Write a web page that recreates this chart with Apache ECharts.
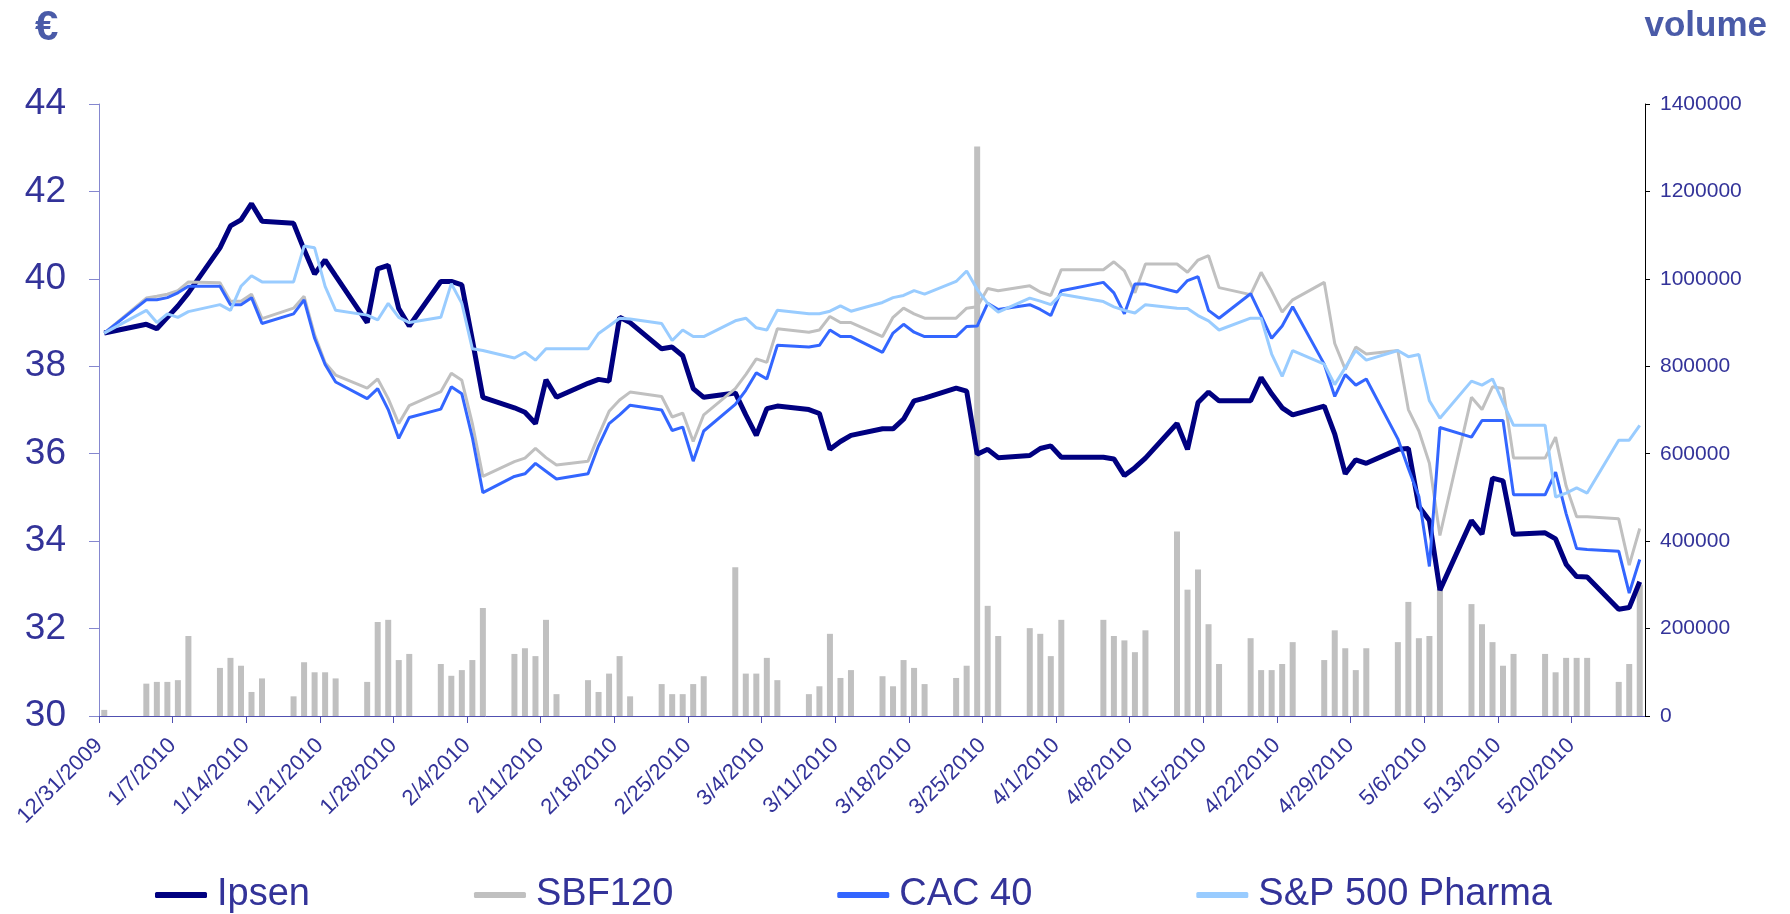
<!DOCTYPE html>
<html>
<head>
<meta charset="utf-8">
<script src="https://cdn.jsdelivr.net/npm/echarts@6/dist/echarts.min.js"></script>
<style>
  html, body { margin: 0; padding: 0; background: #fff; }
  #chart { width: 1790px; height: 914px; }
</style>
</head>
<body>
<div id="chart"></div>
<script>
// trading days shown on the chart (one week per row)
const tradingDays = [
  '12/31/2009',
  '1/4/2010', '1/5/2010', '1/6/2010', '1/7/2010', '1/8/2010',
  '1/11/2010', '1/12/2010', '1/13/2010', '1/14/2010', '1/15/2010',
  '1/18/2010', '1/19/2010', '1/20/2010', '1/21/2010', '1/22/2010',
  '1/25/2010', '1/26/2010', '1/27/2010', '1/28/2010', '1/29/2010',
  '2/1/2010', '2/2/2010', '2/3/2010', '2/4/2010', '2/5/2010',
  '2/8/2010', '2/9/2010', '2/10/2010', '2/11/2010', '2/12/2010',
  '2/15/2010', '2/16/2010', '2/17/2010', '2/18/2010', '2/19/2010',
  '2/22/2010', '2/23/2010', '2/24/2010', '2/25/2010', '2/26/2010',
  '3/1/2010', '3/2/2010', '3/3/2010', '3/4/2010', '3/5/2010',
  '3/8/2010', '3/9/2010', '3/10/2010', '3/11/2010', '3/12/2010',
  '3/15/2010', '3/16/2010', '3/17/2010', '3/18/2010', '3/19/2010',
  '3/22/2010', '3/23/2010', '3/24/2010', '3/25/2010', '3/26/2010',
  '3/29/2010', '3/30/2010', '3/31/2010', '4/1/2010',
  '4/5/2010', '4/6/2010', '4/7/2010', '4/8/2010', '4/9/2010',
  '4/12/2010', '4/13/2010', '4/14/2010', '4/15/2010', '4/16/2010',
  '4/19/2010', '4/20/2010', '4/21/2010', '4/22/2010', '4/23/2010',
  '4/26/2010', '4/27/2010', '4/28/2010', '4/29/2010', '4/30/2010',
  '5/3/2010', '5/4/2010', '5/5/2010', '5/6/2010', '5/7/2010',
  '5/10/2010', '5/11/2010', '5/12/2010', '5/13/2010', '5/14/2010',
  '5/17/2010', '5/18/2010', '5/19/2010', '5/20/2010', '5/21/2010',
  '5/24/2010', '5/25/2010', '5/26/2010'
];

const ipsen = [
  38.76,
  38.96, 38.86, 39.12, 39.38, 39.68,
  40.71, 41.21, 41.35, 41.72, 41.32,
  41.27, 40.67, 40.11, 40.43, 40.07,
  39.00, 40.23, 40.31, 39.32, 38.92,
  39.94, 39.94, 39.86, 38.60, 37.29,
  37.05, 36.95, 36.69, 37.69, 37.29,
  37.61, 37.70, 37.66, 39.12, 39.00,
  38.40, 38.44, 38.24, 37.49, 37.29,
  37.39, 36.89, 36.42, 37.03, 37.09,
  37.01, 36.92, 36.10, 36.28, 36.42,
  36.57, 36.57, 36.79, 37.21, 37.27,
  37.50, 37.43, 35.99, 36.10, 35.91,
  35.96, 36.12, 36.18, 35.92,
  35.92, 35.88, 35.50, 35.68, 35.90,
  36.69, 36.10, 37.17, 37.41, 37.21,
  37.21, 37.74, 37.37, 37.05, 36.89,
  37.09, 36.45, 35.54, 35.86, 35.78,
  36.10, 36.12, 34.79, 34.47, 32.88,
  34.47, 34.16, 35.44, 35.38, 34.16,
  34.19, 34.05, 33.47, 33.19, 33.18,
  32.44, 32.48, 33.07
];

const sbf120 = [
  38.76,
  39.56, 39.60, 39.65, 39.73, 39.93,
  39.91, 39.49, 39.49, 39.65, 39.09,
  39.33, 39.60, 38.72, 38.08, 37.80,
  37.50, 37.71, 37.26, 36.69, 37.10,
  37.42, 37.84, 37.68, 36.69, 35.48,
  35.82, 35.90, 36.12, 35.91, 35.74,
  35.83, 36.42, 36.97, 37.23, 37.41,
  37.31, 36.84, 36.93, 36.28, 36.89,
  37.49, 37.81, 38.17, 38.09, 38.86,
  38.78, 38.83, 39.14, 39.00, 39.00,
  38.68, 39.12, 39.33, 39.20, 39.10,
  39.10, 39.33, 39.36, 39.78, 39.73,
  39.84, 39.70, 39.62, 40.21,
  40.21, 40.39, 40.18, 39.68, 40.34,
  40.34, 40.15, 40.43, 40.53, 39.80,
  39.64, 40.15, 39.72, 39.24, 39.52,
  39.92, 38.52, 37.93, 38.44, 38.28,
  38.36, 37.01, 36.52, 35.78, 34.13,
  37.29, 37.01, 37.53, 37.49, 35.90,
  35.90, 36.38, 35.26, 34.56, 34.56,
  34.51, 33.45, 34.29
];

const cac40 = [
  38.76,
  39.52, 39.52, 39.57, 39.68, 39.83,
  39.83, 39.41, 39.41, 39.57, 38.98,
  39.20, 39.52, 38.64, 38.04, 37.64,
  37.26, 37.49, 37.01, 36.35, 36.83,
  37.02, 37.53, 37.37, 36.37, 35.11,
  35.48, 35.54, 35.78, 35.60, 35.42,
  35.54, 36.18, 36.69, 36.89, 37.11,
  37.00, 36.53, 36.61, 35.83, 36.52,
  37.13, 37.45, 37.85, 37.71, 38.48,
  38.44, 38.48, 38.83, 38.68, 38.68,
  38.32, 38.76, 38.96, 38.78, 38.68,
  38.68, 38.91, 38.92, 39.44, 39.30,
  39.41, 39.30, 39.16, 39.73,
  39.92, 39.68, 39.20, 39.88, 39.88,
  39.70, 39.96, 40.05, 39.28, 39.10,
  39.66, 39.16, 38.64, 38.92, 39.36,
  38.05, 37.31, 37.81, 37.57, 37.71,
  36.34, 35.66, 35.02, 33.42, 36.60,
  36.38, 36.76, 36.76, 36.76, 35.06,
  35.06, 35.58, 34.63, 33.83, 33.81,
  33.77, 32.81, 33.58
];

const spPharma = [
  38.76,
  39.28, 39.00, 39.20, 39.12, 39.25,
  39.41, 39.28, 39.83, 40.07, 39.93,
  39.93, 40.75, 40.71, 39.83, 39.28,
  39.17, 39.06, 39.44, 39.12, 39.00,
  39.12, 39.89, 39.44, 38.40, 38.36,
  38.19, 38.32, 38.14, 38.40, 38.40,
  38.40, 38.75, 38.92, 39.10, 39.08,
  38.98, 38.59, 38.83, 38.68, 38.68,
  39.04, 39.10, 38.88, 38.83, 39.28,
  39.20, 39.20, 39.26, 39.38, 39.26,
  39.46, 39.57, 39.62, 39.73, 39.65,
  39.94, 40.18, 39.76, 39.44, 39.24,
  39.56, 39.49, 39.41, 39.65,
  39.48, 39.36, 39.28, 39.22, 39.41,
  39.33, 39.32, 39.16, 39.04, 38.83,
  39.10, 39.10, 38.28, 37.77, 38.36,
  38.05, 37.58, 37.97, 38.36, 38.14,
  38.36, 38.22, 38.27, 37.21, 36.81,
  37.66, 37.57, 37.71, 37.17, 36.65,
  36.65, 35.01, 35.10, 35.22, 35.10,
  36.31, 36.31, 36.65
];

const volume = [
  14000,
  74000, 78000, 78000, 82000, 183000,
  110000, 133000, 115000, 55000, 86000,
  45000, 123000, 100000, 100000, 86000,
  78000, 215000, 220000, 128000, 142000,
  119000, 92000, 105000, 128000, 247000,
  142000, 155000, 137000, 220000, 50000,
  82000, 55000, 97000, 137000, 45000,
  73000, 50000, 50000, 73000, 91000,
  340000, 97000, 97000, 133000, 82000,
  50000, 68000, 188000, 87000, 105000,
  91000, 68000, 128000, 110000, 73000,
  87000, 115000, 1303000, 252000, 183000,
  201000, 188000, 137000, 220000,
  220000, 183000, 173000, 146000, 196000,
  422000, 289000, 335000, 210000, 119000,
  178000, 105000, 105000, 119000, 169000,
  128000, 196000, 155000, 105000, 155000,
  169000, 261000, 178000, 183000, 290000,
  256000, 210000, 169000, 115000, 142000,
  142000, 100000, 133000, 133000, 133000,
  78000, 119000, 300000
];

// weekly tick labels (every 7 calendar days from 12/31/2009)
const tickLabels = [
  '12/31/2009', '1/7/2010', '1/14/2010', '1/21/2010', '1/28/2010', '2/4/2010',
  '2/11/2010', '2/18/2010', '2/25/2010', '3/4/2010', '3/11/2010', '3/18/2010',
  '3/25/2010', '4/1/2010', '4/8/2010', '4/15/2010', '4/22/2010', '4/29/2010',
  '5/6/2010', '5/13/2010', '5/20/2010'
];

const FONT = 'Liberation Sans, Arial, sans-serif';
const LABEL = '#333399';

// calendar day offset from 12/31/2009, centred in the day
function dayPos(s) {
  const [m, d, y] = s.split('/').map(Number);
  return (Date.UTC(y, m - 1, d) - Date.UTC(2009, 11, 31)) / 86400000 + 0.5;
}
const pairs = arr => tradingDays.map((d, k) => [dayPos(d), arr[k]]);

const chart = echarts.init(document.getElementById('chart'));

function lineSeries(name, arr, color, width) {
  return {
    name: name,
    type: 'line',
    data: pairs(arr),
    showSymbol: false,
    symbol: 'none',
    lineStyle: { color: color, width: width },
    itemStyle: { color: color },
    z: 3
  };
}

const option = {
  animation: false,
  backgroundColor: '#fff',
  textStyle: { fontFamily: FONT },
  title: [
    {
      text: '€', left: 30, top: 2,
      textStyle: { fontSize: 42, fontWeight: 'bold', color: '#4a5ba8', fontFamily: FONT }
    },
    {
      text: 'volume', right: 18, top: 4,
      textStyle: { fontSize: 35, fontWeight: 'bold', color: '#4a5ba8', fontFamily: FONT }
    }
  ],
  legend: {
    data: ['Ipsen', 'SBF120', 'CAC 40', 'S&P 500 Pharma'],
    left: 150,
    top: 871,
    icon: 'roundRect',
    itemWidth: 52,
    itemHeight: 6,
    itemGap: 164,
    textStyle: { fontSize: 38, color: LABEL, fontFamily: FONT, padding: [0, 0, 0, 5] }
  },
  grid: { left: 99, right: 145, top: 104, bottom: 198 },
  xAxis: {
    type: 'value',
    min: 0,
    max: 147,
    interval: 7,
    splitLine: { show: false },
    axisLine: { lineStyle: { color: '#5050b0', width: 1 } },
    axisTick: { length: 7, lineStyle: { color: '#5050b0' } },
    axisLabel: {
      rotate: 45,
      margin: 26,
      fontSize: 22,
      color: LABEL,
      fontFamily: FONT,
      showMaxLabel: false,
      formatter: v => tickLabels[Math.round(v / 7)] || ''
    }
  },
  yAxis: [
    {
      type: 'value',
      min: 30,
      max: 44,
      interval: 2,
      splitLine: { show: false },
      axisLine: { show: true, lineStyle: { color: '#8587cf' } },
      axisTick: { show: true, length: 10, lineStyle: { color: '#8587cf' } },
      axisLabel: { fontSize: 37, color: LABEL, margin: 33, fontFamily: FONT }
    },
    {
      type: 'value',
      min: 0,
      max: 1400000,
      interval: 200000,
      splitLine: { show: false },
      axisLine: { show: true, lineStyle: { color: '#000' } },
      axisTick: { show: true, length: 5, lineStyle: { color: '#000' } },
      axisLabel: {
        fontSize: 21, color: LABEL, margin: 15, fontFamily: FONT,
        formatter: v => String(v)
      }
    }
  ],
  series: [
    {
      name: 'volume',
      type: 'bar',
      yAxisIndex: 1,
      data: pairs(volume),
      barWidth: 6,
      itemStyle: { color: '#c0c0c0' },
      z: 2
    },
    lineSeries('Ipsen', ipsen, '#000080', 5),
    lineSeries('SBF120', sbf120, '#c0c0c0', 3),
    lineSeries('CAC 40', cac40, '#3366ff', 3),
    lineSeries('S&P 500 Pharma', spPharma, '#99ccff', 3)
  ]
};

chart.setOption(option);
</script>
</body>
</html>
